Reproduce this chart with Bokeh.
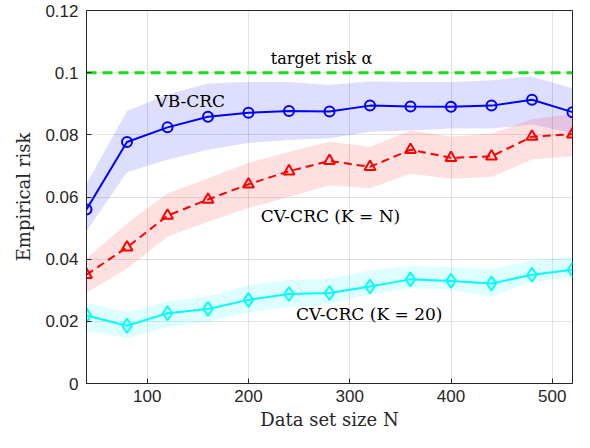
from bokeh.plotting import figure
from bokeh.models import FixedTicker, Label, Range1d, NumeralTickFormatter
from bokeh.embed import file_html
from bokeh.resources import INLINE

# ---- data ----
N = [40, 80, 120, 160, 200, 240, 280, 320, 360, 400, 440, 480, 520]

vb_mean = [0.0560, 0.0777, 0.0824, 0.0858, 0.0871, 0.0877, 0.0875, 0.0894, 0.0891, 0.0890, 0.0894, 0.0913, 0.0873]
vb_hi = [0.0643, 0.0877, 0.0930, 0.0965, 0.0970, 0.0970, 0.0960, 0.0972, 0.0970, 0.0970, 0.0976, 0.0988, 0.0950]
vb_lo = [0.0490, 0.0680, 0.0720, 0.0752, 0.0774, 0.0783, 0.0789, 0.0810, 0.0814, 0.0820, 0.0820, 0.0833, 0.0805]

cvn_mean = [0.0350, 0.0438, 0.0540, 0.0592, 0.0641, 0.0683, 0.0716, 0.0697, 0.0752, 0.0726, 0.0731, 0.0794, 0.0802]
cvn_hi = [0.0402, 0.0515, 0.0612, 0.0660, 0.0710, 0.0745, 0.0778, 0.0762, 0.0814, 0.0794, 0.0804, 0.0850, 0.0867]
cvn_lo = [0.0292, 0.0370, 0.0472, 0.0520, 0.0565, 0.0600, 0.0638, 0.0628, 0.0675, 0.0659, 0.0664, 0.0721, 0.0731]

cv20_mean = [0.0219, 0.0186, 0.0226, 0.0240, 0.0269, 0.0288, 0.0291, 0.0312, 0.0335, 0.0330, 0.0322, 0.0350, 0.0366]
cv20_hi = [0.0260, 0.0229, 0.0265, 0.0280, 0.0317, 0.0333, 0.0338, 0.0364, 0.0379, 0.0374, 0.0369, 0.0395, 0.0410]
cv20_lo = [0.0168, 0.0146, 0.0182, 0.0198, 0.0229, 0.0245, 0.0255, 0.0286, 0.0307, 0.0302, 0.0280, 0.0327, 0.0343]

target_risk = 0.1
x_ticks = [100, 200, 300, 400, 500]
y_ticks = [0, 0.02, 0.04, 0.06, 0.08, 0.1, 0.12]

AX = "#262626"
SERIF = "DejaVu Serif"
SANS = "Liberation Sans"

p = figure(width=574, height=432, output_backend="svg", toolbar_location=None,
           x_range=Range1d(40, 520), y_range=Range1d(0, 0.12),
           min_border_left=86, min_border_right=2, min_border_top=10, min_border_bottom=40,
           background_fill_color="white", border_fill_color="white")
p.outline_line_color = AX
p.outline_line_width = 1
p.outline_line_alpha = 1

xt = FixedTicker(ticks=x_ticks)
yt = FixedTicker(ticks=y_ticks)

for ax, tk in ((p.xaxis[0], xt), (p.yaxis[0], yt)):
    ax.ticker = tk
    ax.axis_line_color = AX
    ax.major_tick_line_color = AX
    ax.major_tick_in = 5
    ax.major_tick_out = 0
    ax.minor_tick_line_color = None
    ax.major_label_text_font = SANS
    ax.major_label_text_font_size = "17px"
    ax.major_label_text_color = AX
    ax.axis_label_text_font = SERIF
    ax.axis_label_text_font_size = "18px"
    ax.axis_label_text_font_style = "normal"
    ax.axis_label_text_color = AX

p.yaxis[0].formatter = NumeralTickFormatter(format="0.[00]")
p.xaxis[0].major_label_standoff = 6
p.xaxis[0].axis_label_standoff = 4
p.yaxis[0].major_label_standoff = 8
p.yaxis[0].axis_label_standoff = 8
p.xaxis[0].axis_label = "Data set size N"
p.yaxis[0].axis_label = "Empirical risk"

p.xgrid.ticker = xt
p.ygrid.ticker = yt
for g in (p.xgrid, p.ygrid):
    g.grid_line_color = AX
    g.grid_line_alpha = 0.13

# bands
p.varea(x=N, y1=vb_lo, y2=vb_hi, fill_color="#0000ff", fill_alpha=0.13)
p.varea(x=N, y1=cvn_lo, y2=cvn_hi, fill_color="#ff0000", fill_alpha=0.12)
p.varea(x=N, y1=cv20_lo, y2=cv20_hi, fill_color="#00ffff", fill_alpha=0.13)

# target line
p.line(x=[40, 520], y=[target_risk, target_risk], line_color="#11e011", line_width=3, line_dash="10 6")

# VB-CRC
p.line(N, vb_mean, line_color="#0000ff", line_width=2)
p.scatter(N, vb_mean, marker="circle", size=10, fill_color=None, line_color="#0000ff", line_width=2)

# CV-CRC K=N
p.line(N, cvn_mean, line_color="#ff0000", line_width=2, line_dash="8 5")
p.scatter(N, cvn_mean, marker="triangle", size=11, fill_color=None, line_color="#ff0000", line_width=2)

# CV-CRC K=20
p.line(N, cv20_mean, line_color="#00ffff", line_width=2)
p.scatter(N, cv20_mean, marker="diamond", size=14, fill_color=None, line_color="#00ffff", line_width=2)

def ann(x, y, t, size="17px"):
    p.add_layout(Label(x=x, y=y, text=t, text_font=SERIF, text_font_size=size,
                       text_color="black", text_baseline="middle", text_align="left"))

ann(108, 0.0908, "VB-CRC")
ann(222, 0.1045, "target risk \u03b1", size="16px")
ann(212, 0.0540, "CV-CRC (K = N)", size="17px")
ann(247, 0.0225, "CV-CRC (K = 20)", size="17px")

open("out.html", "w").write(file_html(p, INLINE))
